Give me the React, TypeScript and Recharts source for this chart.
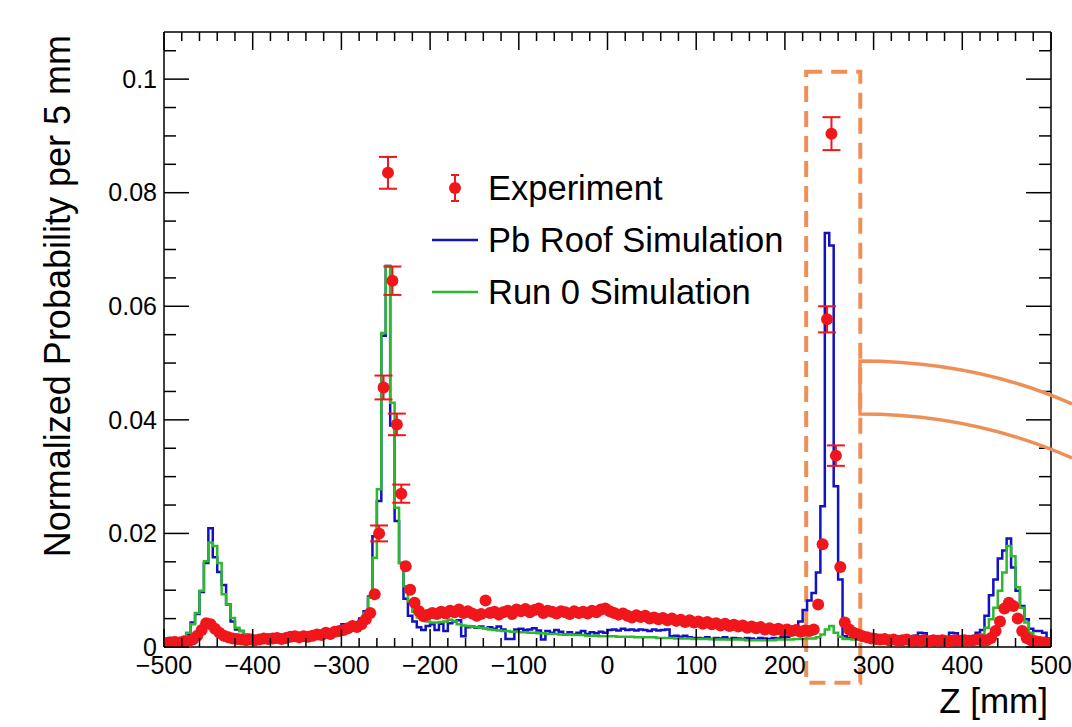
import {
  ComposedChart,
  Line,
  Scatter,
  ErrorBar,
  XAxis,
  YAxis,
  ReferenceArea,
  Legend,
  Label,
} from "recharts";

const FONT = "'Liberation Sans', Arial, Helvetica, sans-serif";
const RED = "#f0161c";
const BLUE = "#1212c2";
const GREEN = "#2db82d";
const ORANGE = "#ef8f58";

const BIN_WIDTH = 5;
const Z_MIN = -500;
const Z_MAX = 500;
const Y_MAX = 0.1083;

// Pb Roof Simulation, one value per 5 mm bin (left edge -500 ... 495)
const pbRoof = [
  0.0008, 0.0016, 0.0009, 0.0008, 0.0012, 0.0022, 0.0043, 0.0058, 0.0097, 0.0148,
  0.0209, 0.0158, 0.0132, 0.0109, 0.0075, 0.0045, 0.0031, 0.0028, 0.0022, 0.0018,
  0.0015, 0.0013, 0.0014, 0.0012, 0.0016, 0.0013, 0.0015, 0.0018, 0.0014, 0.0016,
  0.0017, 0.0015, 0.0019, 0.0022, 0.0018, 0.0024, 0.002, 0.0026, 0.0029, 0.0025,
  0.004, 0.0031, 0.004, 0.0033, 0.005, 0.0063, 0.0089, 0.0195, 0.0257, 0.0548,
  0.0671, 0.039, 0.0222, 0.0148, 0.0085, 0.0055, 0.0045, 0.0035, 0.003, 0.0037,
  0.004, 0.003, 0.0041, 0.0028, 0.0042, 0.0045, 0.0047, 0.0019, 0.0035, 0.0036,
  0.0034, 0.0036, 0.0033, 0.0035, 0.0032, 0.0036, 0.0031, 0.0014, 0.0014, 0.0031,
  0.0032, 0.003, 0.0031, 0.0033, 0.0029, 0.0013, 0.0028, 0.0025, 0.003, 0.0027,
  0.0022, 0.0026, 0.0022, 0.0025, 0.0028, 0.0023, 0.0026, 0.0024, 0.0027, 0.0025,
  0.003, 0.0031, 0.0029, 0.0032, 0.003, 0.0031, 0.0029, 0.0031, 0.003, 0.0028,
  0.0031, 0.0029, 0.003, 0.0031, 0.0019, 0.002, 0.0018, 0.002, 0.0017, 0.0016,
  0.0016, 0.0015, 0.0017, 0.0014, 0.0016, 0.0015, 0.0017, 0.0014, 0.0016, 0.0015,
  0.0014, 0.0016, 0.0015, 0.0013, 0.0016, 0.0015, 0.0014, 0.0016, 0.0015, 0.0017,
  0.0018, 0.003, 0.0028, 0.0045, 0.0065, 0.0082, 0.0095, 0.0131, 0.0248, 0.0729,
  0.0707, 0.0283, 0.0119, 0.0019, 0.0016, 0.0018, 0.0015, 0.0016, 0.0014, 0.0017,
  0.0015, 0.0018, 0.0014, 0.0016, 0.0019, 0.0015, 0.0017, 0.0016, 0.0014, 0.002,
  0.0025, 0.0024, 0.0016, 0.0019, 0.0018, 0.0019, 0.0015, 0.0025, 0.0024, 0.0017,
  0.0018, 0.0016, 0.0019, 0.0025, 0.003, 0.0055, 0.0091, 0.0119, 0.0156, 0.017,
  0.0191, 0.014, 0.0099, 0.0072, 0.0049, 0.0032, 0.0028, 0.0028, 0.0025, 0.0015,
];

// Run 0 Simulation
const run0 = [
  0.0005, 0.0008, 0.001, 0.0012, 0.0015, 0.0025, 0.004, 0.006, 0.0099, 0.0151,
  0.0184, 0.0178, 0.0148, 0.0093, 0.0075, 0.0051, 0.0034, 0.0028, 0.0022, 0.002,
  0.0018, 0.0017, 0.0016, 0.0016, 0.0015, 0.0016, 0.0016, 0.0017, 0.0017, 0.0018,
  0.0018, 0.0019, 0.0019, 0.002, 0.0021, 0.0021, 0.0022, 0.0023, 0.0024, 0.0025,
  0.0026, 0.0027, 0.0029, 0.0032, 0.004, 0.006, 0.0087, 0.0157, 0.0278, 0.0553,
  0.0671, 0.043, 0.0245, 0.0148, 0.0107, 0.008, 0.0062, 0.0052, 0.0048, 0.0045,
  0.0043, 0.0043, 0.0044, 0.0045, 0.0048, 0.0046, 0.004, 0.0038, 0.0037, 0.0036,
  0.0035, 0.0034, 0.0033, 0.0031, 0.003, 0.0029, 0.0028, 0.0028, 0.0027, 0.0027,
  0.0026, 0.0026, 0.0025, 0.0025, 0.0024, 0.0024, 0.0023, 0.0023, 0.0023, 0.0022,
  0.0022, 0.0022, 0.0021, 0.0021, 0.0021, 0.002, 0.002, 0.002, 0.0019, 0.0019,
  0.0019, 0.0019, 0.0018, 0.0018, 0.0018, 0.0018, 0.0017, 0.0017, 0.0017, 0.0017,
  0.0017, 0.0016, 0.0016, 0.0016, 0.0016, 0.0015, 0.0015, 0.0015, 0.0015, 0.0014,
  0.0014, 0.0014, 0.0014, 0.0014, 0.0013, 0.0013, 0.0013, 0.0013, 0.0013, 0.0013,
  0.0013, 0.0012, 0.0012, 0.0012, 0.0012, 0.0012, 0.0012, 0.0012, 0.0013, 0.0013,
  0.0013, 0.0013, 0.0014, 0.0014, 0.0014, 0.0015, 0.0015, 0.0017, 0.0022, 0.0031,
  0.0037, 0.0025, 0.0018, 0.0014, 0.0014, 0.0013, 0.0013, 0.0012, 0.0012, 0.0012,
  0.0012, 0.0011, 0.0011, 0.0011, 0.0011, 0.0011, 0.0011, 0.0011, 0.0011, 0.0011,
  0.0011, 0.0011, 0.0011, 0.0011, 0.0011, 0.0011, 0.0012, 0.0012, 0.0012, 0.0013,
  0.0013, 0.0013, 0.0014, 0.0016, 0.0022, 0.0034, 0.0049, 0.0069, 0.0099, 0.0131,
  0.0178, 0.016, 0.0105, 0.0069, 0.0043, 0.0025, 0.0015, 0.0012, 0.001, 0.0008,
];

// Experiment, at bin centres (-497.5 ... 497.5)
const experiment = [
  0.0007, 0.0008, 0.0009, 0.0008, 0.001, 0.001, 0.0013, 0.002, 0.003, 0.0042,
  0.004, 0.0032, 0.0025, 0.002, 0.0017, 0.0015, 0.0014, 0.0013, 0.0012, 0.0013,
  0.0012, 0.0013, 0.0015, 0.0014, 0.0015, 0.0016, 0.0014, 0.0016, 0.0018, 0.0019,
  0.0017, 0.0019, 0.0018, 0.002, 0.0022, 0.0021, 0.0025, 0.0023, 0.0027, 0.0028,
  0.003, 0.0033, 0.0037, 0.0035, 0.004, 0.0049, 0.006, 0.0093, 0.02, 0.0457,
  0.0835, 0.0645, 0.0392, 0.027, 0.0142, 0.0101, 0.0078, 0.0063, 0.0054, 0.0057,
  0.006, 0.0058, 0.0062, 0.0059, 0.0064, 0.0061, 0.0066, 0.006, 0.0063, 0.0059,
  0.0055, 0.0058, 0.0082, 0.006, 0.0062, 0.0057, 0.0061, 0.0064, 0.0058, 0.0066,
  0.0063, 0.0067, 0.0061, 0.0065, 0.0068, 0.006, 0.0064, 0.0062, 0.0059, 0.0063,
  0.0061, 0.0058, 0.0063, 0.006, 0.0062, 0.0059, 0.0064, 0.0061, 0.0066, 0.0068,
  0.0063, 0.006, 0.0057, 0.0059, 0.0055, 0.0052, 0.0056, 0.0053, 0.0055, 0.005,
  0.0052, 0.0049, 0.0051, 0.0047, 0.005, 0.0046, 0.0048, 0.0044, 0.0047, 0.0043,
  0.0045, 0.0041, 0.0044, 0.004, 0.0042, 0.0038, 0.0041, 0.0037, 0.0039, 0.0036,
  0.0038, 0.0034, 0.0036, 0.0033, 0.0035, 0.0031, 0.0033, 0.003, 0.0032, 0.0029,
  0.0031, 0.0028, 0.003, 0.0027, 0.0029, 0.0028, 0.0031, 0.0075, 0.0181, 0.0577,
  0.0904, 0.0337, 0.0141, 0.0043, 0.0031, 0.0025, 0.0022, 0.0019, 0.0017, 0.0015,
  0.0014, 0.0013, 0.0014, 0.0012, 0.0013, 0.0011, 0.0012, 0.0013, 0.0011, 0.0012,
  0.0011, 0.0012, 0.001, 0.0012, 0.0011, 0.0012, 0.001, 0.0011, 0.0012, 0.0011,
  0.0012, 0.0011, 0.0012, 0.0013, 0.0012, 0.0012, 0.0016, 0.0028, 0.0045, 0.0068,
  0.0078, 0.0072, 0.005, 0.0028, 0.0016, 0.0012, 0.001, 0.0009, 0.0008, 0.0006,
];

// Error bars only stick out of the marker on the two peaks
const experimentErr = [
  0, 0, 0, 0, 0, 0, 0, 0, 0, 0,
  0, 0, 0, 0, 0, 0, 0, 0, 0, 0,
  0, 0, 0, 0, 0, 0, 0, 0, 0, 0,
  0, 0, 0, 0, 0, 0, 0, 0, 0, 0,
  0, 0, 0, 0, 0, 0, 0, 0, 0.0014, 0.0021,
  0.0028, 0.0025, 0.0019, 0.0016, 0, 0, 0, 0, 0, 0,
  0, 0, 0, 0, 0, 0, 0, 0, 0, 0,
  0, 0, 0, 0, 0, 0, 0, 0, 0, 0,
  0, 0, 0, 0, 0, 0, 0, 0, 0, 0,
  0, 0, 0, 0, 0, 0, 0, 0, 0, 0,
  0, 0, 0, 0, 0, 0, 0, 0, 0, 0,
  0, 0, 0, 0, 0, 0, 0, 0, 0, 0,
  0, 0, 0, 0, 0, 0, 0, 0, 0, 0,
  0, 0, 0, 0, 0, 0, 0, 0, 0, 0,
  0, 0, 0, 0, 0, 0, 0, 0, 0, 0.0023,
  0.0029, 0.0018, 0, 0, 0, 0, 0, 0, 0, 0,
  0, 0, 0, 0, 0, 0, 0, 0, 0, 0,
  0, 0, 0, 0, 0, 0, 0, 0, 0, 0,
  0, 0, 0, 0, 0, 0, 0, 0, 0, 0,
  0, 0, 0, 0, 0, 0, 0, 0, 0, 0,
];

const xMajorTicks = [-500, -400, -300, -200, -100, 0, 100, 200, 300, 400, 500];
const xTickLabels = ["\u2212500", "\u2212400", "\u2212300", "\u2212200", "\u2212100", "0", "100", "200", "300", "400", "500"];
const yMajorTicks = [0, 0.02, 0.04, 0.06, 0.08, 0.1];
const yTickLabels = ["0", "0.02", "0.04", "0.06", "0.08", "0.1"];

const legendItems = [
  { label: "Experiment", kind: "point", color: RED },
  { label: "Pb Roof Simulation", kind: "line", color: BLUE },
  { label: "Run 0 Simulation", kind: "line", color: GREEN },
];

// ROOT style axes: minor ticks every 20 mm and every 0.005
const xTicks: number[] = [];
for (let z = Z_MIN; z <= Z_MAX; z += 20) xTicks.push(z);
xMajorTicks.forEach((t) => { if (!xTicks.includes(t)) xTicks.push(t); });
xTicks.sort((a, b) => a - b);
const yTicks: number[] = [];
for (let k = 0; k <= 21; k++) yTicks.push(Math.round(k * 5) / 1000);

const histData = pbRoof.map((v, i) => ({ z: Z_MIN + i * BIN_WIDTH, pb: v, run0: run0[i] }));
histData.push({ z: Z_MAX, pb: pbRoof[pbRoof.length - 1], run0: run0[run0.length - 1] });

const expData = experiment.map((v, i) => ({
  z: Z_MIN + (i + 0.5) * BIN_WIDTH,
  exp: v,
  err: experimentErr[i],
}));

const near = (a: number, b: number) => Math.abs(a - b) < 1e-7;
const majorIndex = (list: number[], v: number) => list.findIndex((t) => near(t, v));

function BottomTick(props: any) {
  const { x, y, payload } = props;
  const k = majorIndex(xMajorTicks, payload.value);
  return (
    <g>
      <line x1={x} x2={x} y1={y} y2={y - (k >= 0 ? 18 : 9)} stroke="#000" strokeWidth={1.5} />
      {k >= 0 && (
        <text x={x} y={y + 27} textAnchor="middle" fontSize={25} fontFamily={FONT} fill="#000">
          {xTickLabels[k]}
        </text>
      )}
    </g>
  );
}

function TopTick(props: any) {
  const { x, y, payload } = props;
  const k = majorIndex(xMajorTicks, payload.value);
  return <line x1={x} x2={x} y1={y} y2={y + (k >= 0 ? 18 : 9)} stroke="#000" strokeWidth={1.5} />;
}

function LeftTick(props: any) {
  const { x, y, payload } = props;
  const k = majorIndex(yMajorTicks, payload.value);
  return (
    <g>
      <line x1={x} x2={x + (k >= 0 ? 25 : 12)} y1={y} y2={y} stroke="#000" strokeWidth={1.5} />
      {k >= 0 && (
        <text x={x - 7} y={y} dy="0.35em" textAnchor="end" fontSize={25} fontFamily={FONT} fill="#000">
          {yTickLabels[k]}
        </text>
      )}
    </g>
  );
}

function RightTick(props: any) {
  const { x, y, payload } = props;
  const k = majorIndex(yMajorTicks, payload.value);
  return <line x1={x} x2={x - (k >= 0 ? 25 : 12)} y1={y} y2={y} stroke="#000" strokeWidth={1.5} />;
}

function YTitle(props: any) {
  const { viewBox } = props;
  const bx = viewBox.x + 70;
  const by = viewBox.y + 3;
  return (
    <text
      x={bx}
      y={by}
      transform={`rotate(-90, ${bx}, ${by})`}
      textAnchor="end"
      fontSize={36}
      fontFamily={FONT}
      fill="#000"
    >
      Normalized Probability per 5 mm
    </text>
  );
}

function XTitle(props: any) {
  const { viewBox } = props;
  return (
    <text
      x={viewBox.x + viewBox.width - 3}
      y={viewBox.y + 66}
      textAnchor="end"
      fontSize={35}
      fontFamily={FONT}
      fill="#000"
    >
      Z [mm]
    </text>
  );
}

function ExpDot(props: any) {
  const { cx, cy } = props;
  return <circle cx={cx} cy={cy} r={6} fill={RED} />;
}

function LegendBox() {
  return (
    <svg width={420} height={160} style={{ display: "block" }}>
      {legendItems.map((item, i) => {
        const cy = 28 + i * 52;
        return (
          <g key={item.label}>
            {item.kind === "point" ? (
              <g stroke={item.color} strokeWidth={2}>
                <line x1={35} x2={35} y1={cy - 13} y2={cy + 13} />
                <line x1={31} x2={39} y1={cy - 13} y2={cy - 13} />
                <line x1={31} x2={39} y1={cy + 13} y2={cy + 13} />
                <circle cx={35} cy={cy} r={6} fill={item.color} stroke="none" />
              </g>
            ) : (
              <line x1={12} x2={58} y1={cy} y2={cy} stroke={item.color} strokeWidth={2.5} />
            )}
            <text x={68} y={cy} dy="0.35em" fontSize={34.5} fontFamily={FONT} fill="#000">
              {item.label}
            </text>
          </g>
        );
      })}
    </svg>
  );
}

export default function App() {
  return (
    <div
      style={{
        position: "absolute",
        left: 0,
        top: 0,
        width: 1072,
        height: 727,
        overflow: "hidden",
        background: "#fff",
      }}
    >
      <ComposedChart
        width={1072}
        height={727}
        data={histData}
        margin={{ top: 0, right: 0, bottom: 0, left: 0 }}
      >
        <XAxis
          dataKey="z"
          type="number"
          domain={[Z_MIN, Z_MAX]}
          allowDataOverflow
          ticks={xTicks}
          interval={0}
          tickSize={0}
          tickMargin={0}
          tick={<BottomTick />}
          height={80}
          axisLine={{ stroke: "#000", strokeWidth: 1.5 }}
        >
          <Label content={<XTitle />} />
        </XAxis>
        <XAxis
          xAxisId="top"
          orientation="top"
          dataKey="z"
          type="number"
          domain={[Z_MIN, Z_MAX]}
          allowDataOverflow
          ticks={xTicks}
          interval={0}
          tickSize={0}
          tickMargin={0}
          tick={<TopTick />}
          height={32}
          axisLine={{ stroke: "#000", strokeWidth: 1.5 }}
        />
        <YAxis
          type="number"
          domain={[0, Y_MAX]}
          allowDataOverflow
          ticks={yTicks}
          interval={0}
          tickSize={0}
          tickMargin={0}
          tick={<LeftTick />}
          width={164}
          axisLine={{ stroke: "#000", strokeWidth: 1.5 }}
        >
          <Label content={<YTitle />} />
        </YAxis>
        <YAxis
          yAxisId="right"
          orientation="right"
          type="number"
          domain={[0, Y_MAX]}
          allowDataOverflow
          ticks={yTicks}
          interval={0}
          tickSize={0}
          tickMargin={0}
          tick={<RightTick />}
          width={21}
          axisLine={{ stroke: "#000", strokeWidth: 1.5 }}
        />
        <ReferenceArea
          x1={224}
          x2={285}
          y1={-0.0063}
          y2={0.1013}
          ifOverflow="visible"
          fill="none"
          fillOpacity={0}
          stroke={ORANGE}
          strokeWidth={4}
          strokeDasharray="16 9"
        />
        <Line
          type="stepAfter"
          dataKey="pb"
          stroke={BLUE}
          strokeWidth={2.5}
          dot={false}
          activeDot={false}
          isAnimationActive={false}
        />
        <Line
          type="stepAfter"
          dataKey="run0"
          stroke={GREEN}
          strokeWidth={2.5}
          dot={false}
          activeDot={false}
          isAnimationActive={false}
        />
        <Scatter data={expData} dataKey="exp" fill={RED} shape={<ExpDot />} isAnimationActive={false}>
          <ErrorBar dataKey="err" direction="y" width={9} stroke={RED} strokeWidth={2} />
        </Scatter>
        <Legend
          layout="vertical"
          align="center"
          verticalAlign="middle"
          content={<LegendBox />}
          wrapperStyle={{ left: 420, top: 160, width: 420, height: 160 }}
        />
      </ComposedChart>
      <svg
        width={1072}
        height={727}
        style={{ position: "absolute", left: 0, top: 0, pointerEvents: "none" }}
      >
        <path
          d="M 1072 404 C 1000 372 930 361 860 361 L 860 414 C 930 414 1000 426 1072 458"
          fill="none"
          stroke={ORANGE}
          strokeWidth={3.5}
        />
      </svg>
    </div>
  );
}
